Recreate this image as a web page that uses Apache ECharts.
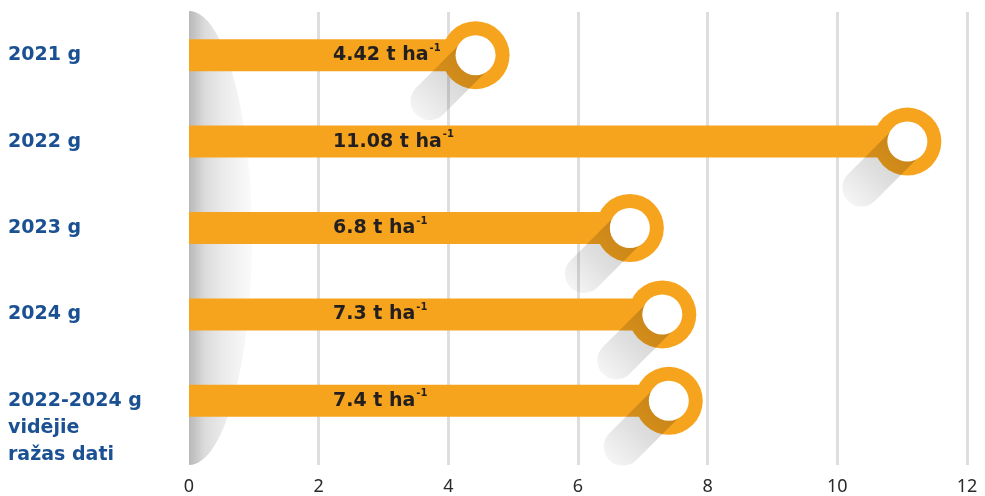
<!DOCTYPE html>
<html><head><meta charset="utf-8">
<script src="https://cdn.jsdelivr.net/npm/echarts@6/dist/echarts.min.js"></script>
<style>html,body{margin:0;padding:0;background:#fff}#c{width:985px;height:496px}</style>
</head><body><div id="c"></div>
<script>
const categories = ['2021 g', '2022 g', '2023 g', '2024 g', '2022-2024 g\nvidējie\nražas dati'];
const values = [4.42, 11.08, 6.8, 7.3, 7.4];
const valueLabels = ['4.42', '11.08', '6.8', '7.3', '7.4'];
const unitMain = 't ha';
const unitSup = '-1';
const xMin = 0, xMax = 12, xInterval = 2;

const ORANGE = '#F6A41E';
const BLUE = '#1B5192';
const chart = echarts.init(document.getElementById('c'));

// left curl shadow shape (decorative)
const curlPts = [];
const ecx = 189, ecy = 238, erx = 63, ery = 227;
for (let a = -90; a <= 90; a += 3) {
  const r = a * Math.PI / 180;
  curlPts.push([ecx + erx * Math.cos(r), ecy + ery * Math.sin(r)]);
}

chart.setOption({
  animation: false,
  graphic: [{
    type: 'polygon', z: 1, silent: true,
    shape: { points: curlPts },
    style: {
      fill: new echarts.graphic.LinearGradient(189, 0, 252, 0, [
        { offset: 0, color: 'rgba(0,0,0,0.28)' },
        { offset: 0.25, color: 'rgba(0,0,0,0.14)' },
        { offset: 0.55, color: 'rgba(0,0,0,0.08)' },
        { offset: 0.85, color: 'rgba(0,0,0,0.035)' },
        { offset: 1, color: 'rgba(0,0,0,0.02)' }
      ], true)
    }
  }],
  grid: [
    { left: 189, right: 18, top: 12, bottom: 52, containLabel: false, outerBoundsMode: 'none' },
    { left: 189, right: 18, top: 12, bottom: 31, containLabel: false, outerBoundsMode: 'none' }
  ],
  xAxis: [
    { gridIndex: 0, type: 'value', min: xMin, max: xMax, interval: xInterval, show: false },
    { gridIndex: 1, type: 'value', min: xMin, max: xMax, interval: xInterval,
      axisLine: { show: false }, axisTick: { show: false },
      splitLine: { show: true, showMinLine: false, lineStyle: { color: '#DEDEDF', width: 3 } },
      axisLabel: { color: '#2a2a2a', fontSize: 18, fontFamily: 'Noto Sans', margin: 13 } }
  ],
  yAxis: [
    { gridIndex: 0, type: 'category', inverse: true, data: categories,
      axisLine: { show: false }, axisTick: { show: false }, splitLine: { show: false },
      axisLabel: { margin: 181, align: 'left', color: BLUE, fontSize: 19, fontWeight: 'bold',
        fontFamily: 'DejaVu Sans', lineHeight: 27,
        // multi-line label: first line level with the bar, the rest hanging below
        formatter: v => v.indexOf('\n') >= 0 ? '\n\n' + v : v } },
    { gridIndex: 1, type: 'value', show: false }
  ],
  series: [
    {
      type: 'bar', xAxisIndex: 0, yAxisIndex: 0, z: 2,
      data: values, barWidth: 32,
      itemStyle: { color: ORANGE },
      label: {
        show: true, position: 'insideLeft', offset: [139, 0],
        formatter: p => '{m|' + valueLabels[p.dataIndex] + ' ' + unitMain + '}{s|' + unitSup + '}',
        rich: {
          m: { fontSize: 19, fontWeight: 'bold', color: '#231F20', fontFamily: 'DejaVu Sans', lineHeight: 24 },
          s: { fontSize: 10, fontWeight: 'bold', color: '#231F20', fontFamily: 'DejaVu Sans', verticalAlign: 'top', lineHeight: 24, padding: [0, 0, 8, 1] }
        }
      }
    },
    {
      type: 'custom', xAxisIndex: 0, yAxisIndex: 0, z: 3,
      data: values.map((v, i) => [v, i]),
      encode: { x: 0, y: 1 },
      renderItem: function (params, api) {
        const p = api.coord([api.value(0), api.value(1)]);
        const cx = p[0], cy = p[1];
        const d = 46;
        return {
          type: 'group',
          children: [
            { type: 'circle', shape: { cx: cx, cy: cy, r: 34 }, style: { fill: ORANGE } },
            { type: 'line', shape: { x1: cx, y1: cy, x2: cx - d, y2: cy + d },
              style: {
                lineWidth: 38, lineCap: 'round',
                stroke: new echarts.graphic.LinearGradient(cx, cy, cx - d - 14, cy + d + 14, [
                  { offset: 0, color: 'rgba(0,0,0,0.2)' },
                  { offset: 0.5, color: 'rgba(0,0,0,0.13)' },
                  { offset: 1, color: 'rgba(0,0,0,0.04)' }
                ], true)
              } },
            { type: 'circle', shape: { cx: cx, cy: cy, r: 20 }, style: { fill: '#ffffff' } }
          ]
        };
      }
    }
  ]
});
</script></body></html>
